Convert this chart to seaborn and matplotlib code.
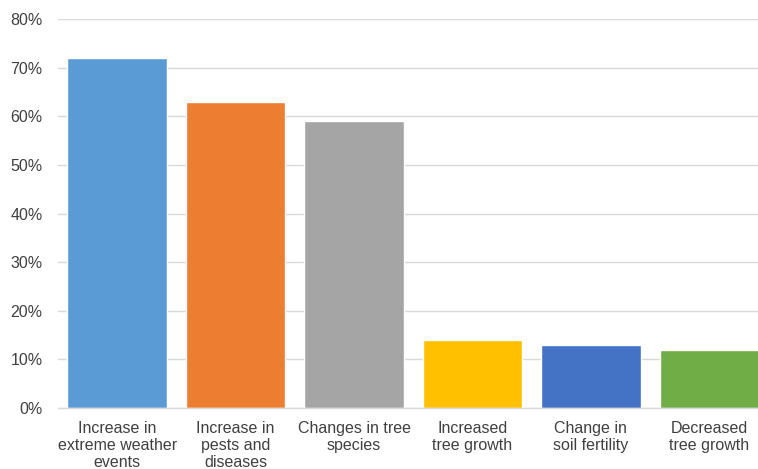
import matplotlib
matplotlib.use("Agg")
import matplotlib.pyplot as plt
import pandas as pd
import seaborn as sns
from matplotlib.ticker import PercentFormatter, FixedLocator

# Data
categories = ["Increase in\nextreme weather\nevents", "Increase in\npests and\ndiseases",
              "Changes in tree\nspecies", "Increased\ntree growth",
              "Change in\nsoil fertility", "Decreased\ntree growth"]
shares = [0.72, 0.63, 0.59, 0.14, 0.13, 0.12]
colors = ["#5B9BD5", "#ED7D31", "#A5A5A5", "#FFC000", "#4472C4", "#70AD47"]

df = pd.DataFrame({"category": categories, "share": shares})

sns.set_style("white")
plt.rcParams["font.family"] = ["Liberation Sans", "DejaVu Sans"]

fig = plt.figure(figsize=(7.58, 4.69), dpi=100)
ax = fig.add_axes([0.0765, 0.130, 0.9374, 0.8295])

sns.barplot(data=df, x="category", y="share", hue="category", palette=colors,
            legend=False, width=0.84, saturation=1, ax=ax)

ax.set_ylim(0, 0.8)
ax.set_xlim(-0.5, 5.5)
ax.yaxis.set_major_formatter(PercentFormatter(1.0, decimals=0))
ax.set_yticks([i / 10 for i in range(9)])
ax.grid(axis="y", color="#d9d9d9", linewidth=1)
ax.set_axisbelow(True)
ax.set_xlabel("")
ax.set_ylabel("")

for side in ["top", "right", "left"]:
    ax.spines[side].set_visible(False)
ax.spines["bottom"].set_color("#d9d9d9")
ax.spines["bottom"].set_linewidth(1)

ax.tick_params(axis="y", length=0, labelsize=11.5, labelcolor="#404040", pad=11)
ax.tick_params(axis="x", which="major", length=0, labelsize=11.5, labelcolor="#404040", pad=9)
ax.xaxis.set_minor_locator(FixedLocator([i - 0.5 for i in range(7)]))
ax.tick_params(axis="x", which="minor", length=5, color="#d9d9d9", width=1)
for lbl in ax.get_xticklabels():
    lbl.set_linespacing(1.17)

fig.savefig("out.png", dpi=100)
